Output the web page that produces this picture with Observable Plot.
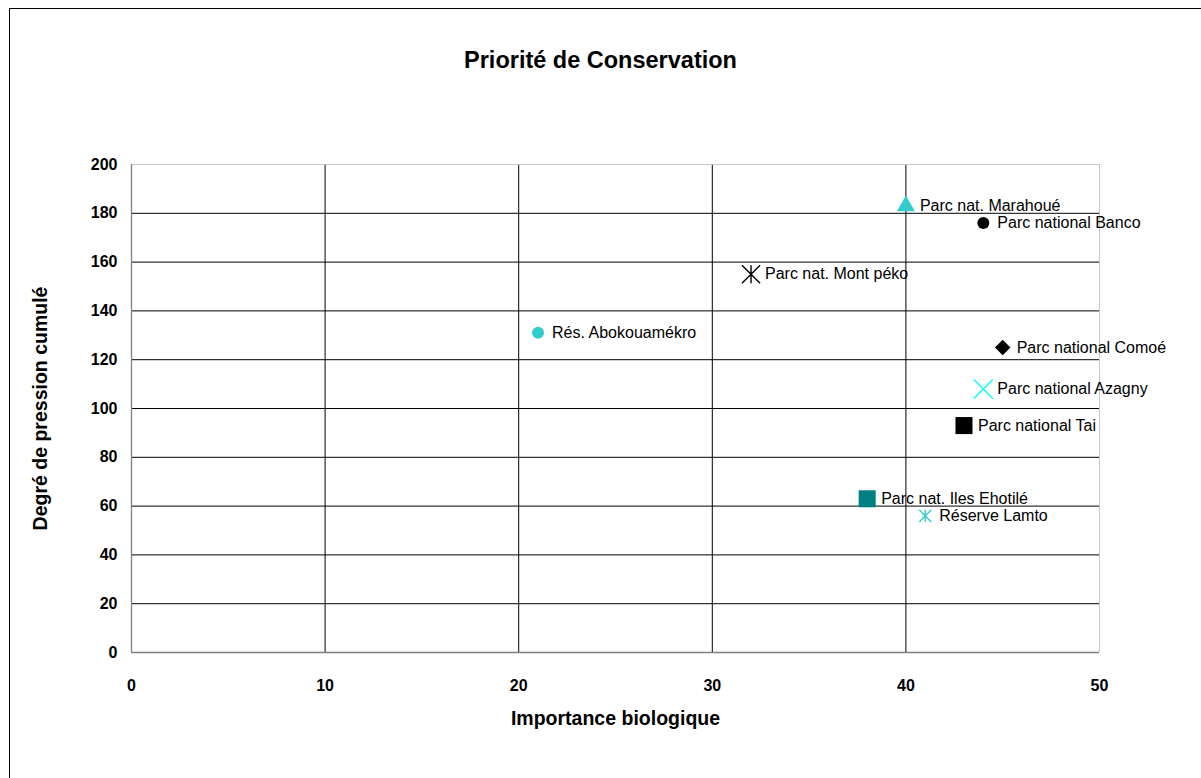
<!DOCTYPE html>
<html>
<head>
<meta charset="utf-8">
<script src="https://cdn.jsdelivr.net/npm/d3@7"></script>
<script src="https://cdn.jsdelivr.net/npm/@observablehq/plot@0.6"></script>
<style>
  html, body { margin: 0; padding: 0; background: #fff; }
  body { width: 1201px; height: 778px; overflow: hidden; position: relative; font-family: "Liberation Sans", Arial, sans-serif; }
  #frame { position: absolute; left: 9px; top: 8px; width: 1200px; height: 780px; border: 1px solid #000; box-sizing: border-box; pointer-events: none; }
  #title { position: relative; height: 100px; width: 1201px; }
  #title span { position: absolute; left: 0; width: 1201px; top: 46px; text-align: center; font-weight: bold; font-size: 23.5px; line-height: 28px; color: #000; }
  #chart svg { display: block; }
</style>
</head>
<body>
<div id="frame"></div>
<div id="title"><span>Priorité de Conservation</span></div>
<div id="chart"></div>
<script>
// ---- data ----
const sites = ["Parc nat. Marahoué", "Parc national Banco", "Parc nat. Mont péko", "Rés. Abokouamékro", "Parc national Comoé", "Parc national Azagny", "Parc national Tai", "Parc nat. Iles Ehotilé", "Réserve Lamto"];
const importance = [40, 44, 32, 21, 45, 44, 43, 38, 41];
const pression = [183, 176, 155, 131, 125, 108, 93, 63, 56];
const xTicks = [0, 10, 20, 30, 40, 50];
const yTicks = [0, 20, 40, 60, 80, 100, 120, 140, 160, 180, 200];
const xGrid = [10, 20, 30, 40];
const yGrid = [20, 40, 60, 80, 100, 120, 140, 160, 180];

// ---- marker styles ----
const star = { draw(ctx, size) { const r = Math.sqrt(size) / 2; ctx.moveTo(-r, -r); ctx.lineTo(r, r); ctx.moveTo(-r, r); ctx.lineTo(r, -r); ctx.moveTo(0, -r); ctx.lineTo(0, r); } };
const cross = { draw(ctx, size) { const r = Math.sqrt(size) / 2; ctx.moveTo(-r, -r); ctx.lineTo(r, r); ctx.moveTo(-r, r); ctx.lineTo(r, -r); } };
const styles = {
  "Parc nat. Marahoué":      { symbol: "triangle", fill: "#33CCCC", r: 6.7 },
  "Parc national Banco":     { symbol: "circle",   fill: "#000000", r: 6 },
  "Parc nat. Mont péko":     { symbol: star,       stroke: "#000000", r: 10.2 },
  "Rés. Abokouamékro":       { symbol: "circle",   fill: "#33CCCC", r: 6 },
  "Parc national Comoé":     { symbol: "diamond2", fill: "#000000", r: 7 },
  "Parc national Azagny":    { symbol: cross,      stroke: "#00FFFF", r: 10.7 },
  "Parc national Tai":       { symbol: "square",   fill: "#000000", r: 9.6 },
  "Parc nat. Iles Ehotilé":  { symbol: "square",   fill: "#008080", r: 9.6 },
  "Réserve Lamto":           { symbol: star,       stroke: "#33CCCC", r: 6.8 }
};

const data = sites.map((name, i) => ({ name, x: importance[i], y: pression[i] }));

const dotMarks = data.map(d => {
  const s = styles[d.name];
  const o = { x: "x", y: "y", symbol: s.symbol, r: s.r };
  if (s.fill) { o.fill = s.fill; o.stroke = "none"; }
  else { o.stroke = s.stroke; o.fill = "none"; o.strokeWidth = 1.4; }
  return Plot.dot([d], o);
});

const chart = Plot.plot({
  width: 1201,
  height: 678,
  marginLeft: 131,
  marginRight: 102,
  marginTop: 64,
  marginBottom: 126,
  x: { domain: [0, 50] },
  y: { domain: [0, 200] },
  style: { fontFamily: "Liberation Sans, Arial, sans-serif", background: "transparent", color: "#000", overflow: "visible" },
  marks: [
    Plot.gridX(xGrid, { stroke: "#000", strokeOpacity: 1 }),
    Plot.gridY(yGrid, { stroke: "#000", strokeOpacity: 1 }),
    Plot.ruleX([50], { stroke: "#c8c8c8" }),
    Plot.ruleY([200], { stroke: "#c8c8c8" }),
    Plot.ruleX([0], { stroke: "#808080", strokeWidth: 1.3 }),
    Plot.ruleY([0], { stroke: "#808080", strokeWidth: 1.3 }),
    Plot.axisX({ ticks: xTicks, tickSize: 0, tickPadding: 27, fontWeight: "bold", fontSize: 16, label: null }),
    Plot.axisY({ ticks: yTicks, tickSize: 0, tickPadding: 14, fontWeight: "bold", fontSize: 16, label: null }),
    ...dotMarks,
    Plot.text(data, { x: "x", y: "y", text: "name", dx: 14, textAnchor: "start", fontSize: 16, fill: "#000" }),
    Plot.text(["Importance biologique"], { frameAnchor: "bottom", dy: 66, lineAnchor: "middle", textAnchor: "middle", fontWeight: "bold", fontSize: 19.5, fill: "#000" }),
    Plot.text(["Degré de pression cumulé"], { frameAnchor: "left", rotate: -90, dx: -91, lineAnchor: "middle", textAnchor: "middle", fontWeight: "bold", fontSize: 19.5, fill: "#000" })
  ]
});
document.getElementById("chart").appendChild(chart);
</script>
</body>
</html>
